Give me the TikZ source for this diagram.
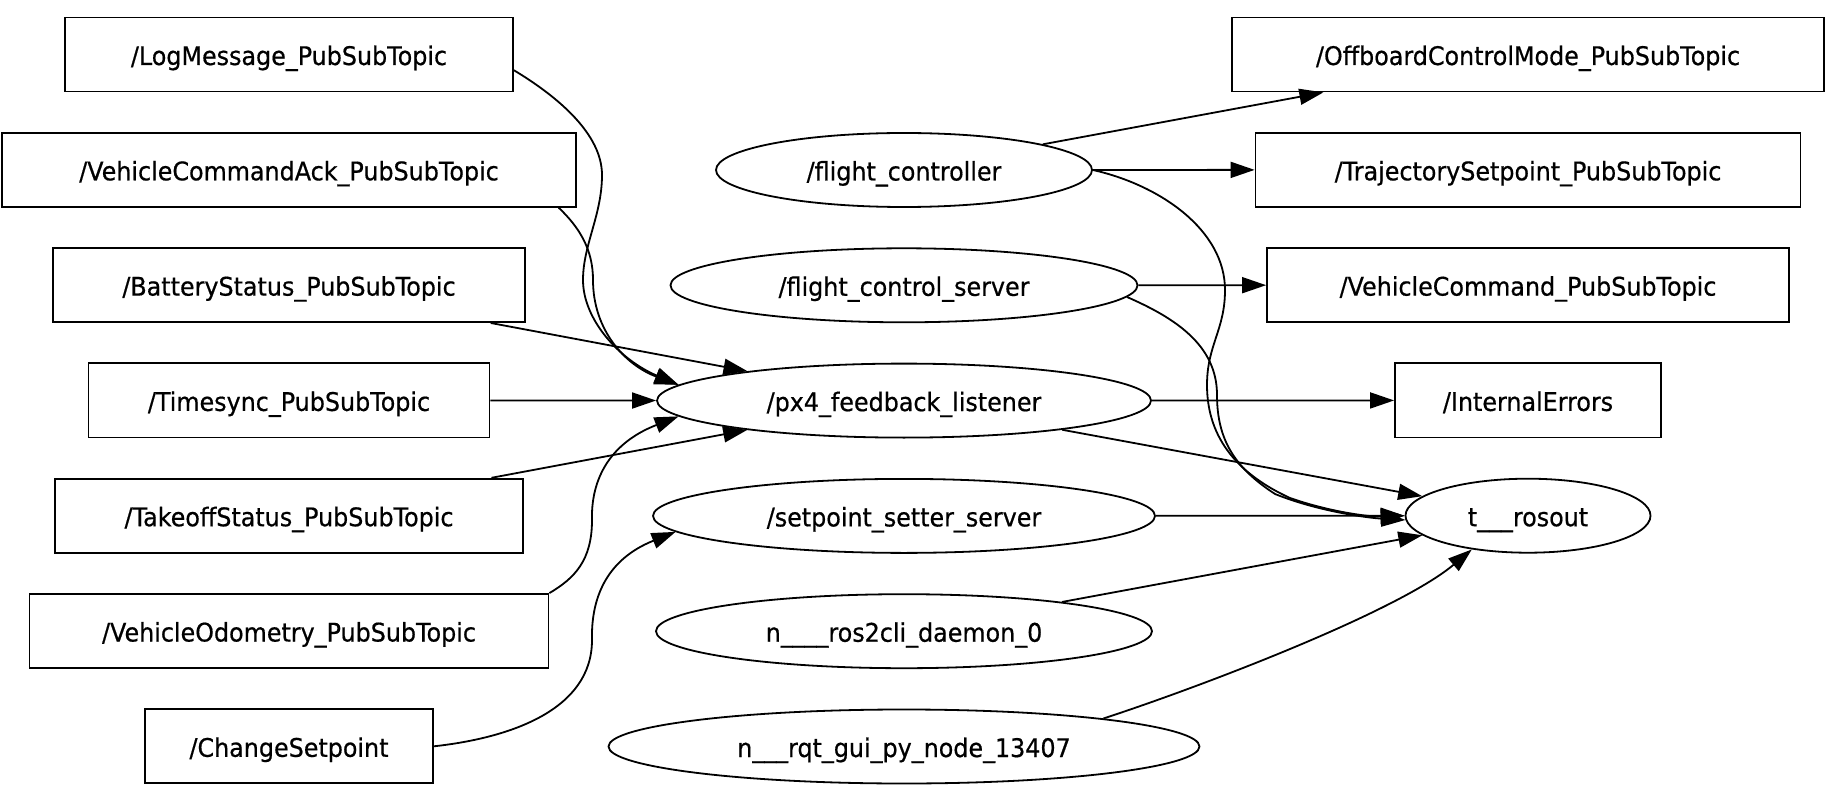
\documentclass[tikz,border=0pt]{standalone}
\usepackage{fontspec}
\setmainfont{DejaVu Sans}[FakeStretch=0.93,FakeBold=0.6]
\usepackage{tikz}
\usetikzlibrary{arrows.meta,positioning,shapes.geometric}

\begin{document}
\begin{tikzpicture}[
  x=1pt,y=-1pt,
  node distance=39.5pt,
  font=\fontsize{25.6}{30}\selectfont,
  topic/.style={draw,line width=1.8pt,minimum height=74pt,inner sep=2pt,
                text height=21pt,text depth=0pt},
  rosnode/.style={draw,ellipse,line width=1.8pt,minimum height=74pt,inner sep=2pt,
                  text height=21pt,text depth=0pt},
  flow/.style={-{Triangle[length=24pt,width=16pt]},line width=1.8pt}
]
\useasboundingbox (0,0) rectangle (1825,791);
% topics on the left
\node[topic,minimum width=448pt] (logmsg) at (289,54.5) {/LogMessage\_PubSubTopic};
\node[topic,minimum width=574pt,below=of logmsg] (cmdack) {/VehicleCommandAck\_PubSubTopic};
\node[topic,minimum width=472pt,below=of cmdack] (battery) {/BatteryStatus\_PubSubTopic};
\node[topic,minimum width=401pt,below=of battery] (timesync) {/Timesync\_PubSubTopic};
\node[topic,minimum width=468pt,below=of timesync] (takeoff) {/TakeoffStatus\_PubSubTopic};
\node[topic,minimum width=519pt,below=of takeoff] (odom) {/VehicleOdometry\_PubSubTopic};
\node[topic,minimum width=288pt,below=of odom] (chgsp) {/ChangeSetpoint};
% ros nodes in the middle
\node[rosnode,minimum width=376pt] (fc) at (904,170) {/flight\_controller};
\node[rosnode,minimum width=467pt,below=of fc] (fcs) {/flight\_control\_server};
\node[rosnode,minimum width=494pt,below=of fcs] (px4) {/px4\_feedback\_listener};
\node[rosnode,minimum width=502pt,below=of px4] (sss) {/setpoint\_setter\_server};
\node[rosnode,minimum width=496pt,below=of sss] (daemon) {n\_\_\_\_ros2cli\_daemon\_0};
\node[rosnode,minimum width=591pt,below=of daemon] (rqt) {n\_\_\_rqt\_gui\_py\_node\_13407};
% topics on the right
\node[topic,minimum width=592pt] (offboard) at (1528,54.5) {/OffboardControlMode\_PubSubTopic};
\node[topic,minimum width=545pt,below=of offboard] (trajsp) {/TrajectorySetpoint\_PubSubTopic};
\node[topic,minimum width=522pt,below=of trajsp] (vehcmd) {/VehicleCommand\_PubSubTopic};
\node[topic,minimum width=266pt,below=of vehcmd] (interr) {/InternalErrors};
\node[rosnode,minimum width=245pt,below=of interr] (rosout) {t\_\_\_rosout};

% subscriptions of the listener
\draw[flow] (logmsg.-4) .. controls (560,98) and (602,135) .. (602,175)
  .. controls (602,215) and (583,245) .. (583,280)
  .. controls (583,320) and (620,360) .. (px4.176);
\draw[flow] (cmdack.-8) .. controls (580,228) and (593,250) .. (593,280)
  .. controls (593,330) and (625,365) .. (px4.176);
\draw[flow] (battery) -- (px4);
\draw[flow] (timesync) -- (px4);
\draw[flow] (takeoff) -- (px4);
\draw[flow] (odom.north east) .. controls (575,578) and (592,560) .. (592,520)
  .. controls (591,485) and (605,445) .. (px4.184);
\draw[flow] (chgsp.east) .. controls (510,738) and (592,710) .. (592,640)
  .. controls (591,600) and (605,560) .. (sss.184);

% publishers
\draw[flow] (fc) -- (offboard);
\draw[flow] (fc) -- (trajsp);
\draw[flow] (fc.east) .. controls (1160,185) and (1225,230) .. (1225,290)
  .. controls (1225,330) and (1207,345) .. (1207,385)
  .. controls (1207,440) and (1240,475) .. (1290,498)
  .. controls (1330,512) and (1370,517) .. (rosout.west);
\draw[flow] (fcs) -- (vehcmd);
\draw[flow] (fcs.-3) .. controls (1175,318) and (1217,345) .. (1217,395)
  .. controls (1217,440) and (1235,468) .. (1275,494)
  .. controls (1320,512) and (1370,518) .. (rosout.182);
\draw[flow] (px4) -- (interr);
\draw[flow] (px4) -- (rosout);
\draw[flow] (sss) -- (rosout);
\draw[flow] (daemon) -- (rosout);
\draw[flow] (rqt.8) .. controls (1194,689) and (1396,613) .. (rosout.211);
\end{tikzpicture}
\end{document}
